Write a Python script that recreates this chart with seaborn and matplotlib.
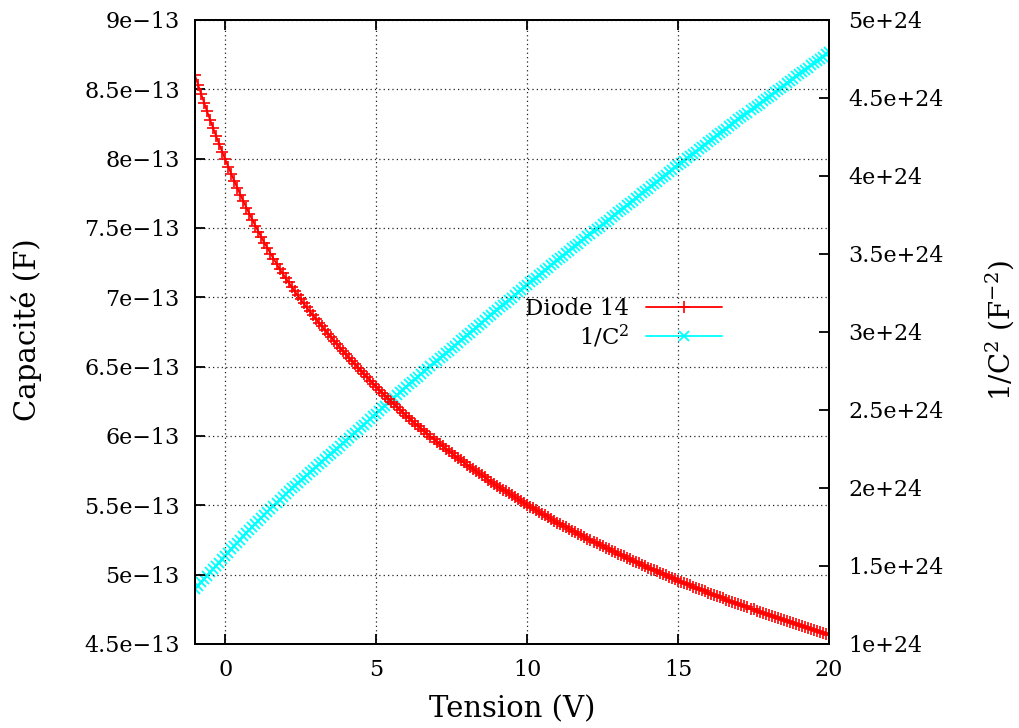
import numpy as np
import pandas as pd
import matplotlib
matplotlib.use("Agg")
import matplotlib.pyplot as plt
import seaborn as sns

# Tension (V): measurement points every 0.1 V from -1 to 20
tension_start = -1.0
tension_step = 0.1

# Capacité, in units of 1e-13 F (one value per 0.1 V)
capacite_e13 = [
    8.600, 8.534, 8.468, 8.404, 8.341, 8.280, 8.220, 8.162, 8.105, 8.049,   # -1.0 .. -0.1
    7.995, 7.942, 7.890, 7.839, 7.789, 7.741, 7.693, 7.647, 7.602, 7.558,   # 0.0 .. 0.9
    7.515, 7.473, 7.432, 7.392, 7.354, 7.316, 7.279, 7.243, 7.207, 7.173,   # 1.0 ..
    7.140, 7.108, 7.076, 7.045, 7.015, 6.985, 6.956, 6.927, 6.899, 6.872,   # 2.0 ..
    6.845, 6.818, 6.791, 6.765, 6.739, 6.713, 6.687, 6.662, 6.637, 6.612,   # 3.0 ..
    6.588, 6.564, 6.540, 6.516, 6.492, 6.469, 6.446, 6.422, 6.400, 6.377,   # 4.0 ..
    6.355, 6.333, 6.311, 6.290, 6.269, 6.248, 6.228, 6.207, 6.187, 6.166,   # 5.0 ..
    6.146, 6.127, 6.108, 6.089, 6.071, 6.052, 6.033, 6.015, 5.996, 5.978,   # 6.0 ..
    5.960, 5.943, 5.926, 5.909, 5.892, 5.876, 5.859, 5.842, 5.826, 5.809,   # 7.0 ..
    5.793, 5.778, 5.763, 5.747, 5.732, 5.717, 5.702, 5.686, 5.671, 5.656,   # 8.0 ..
    5.641, 5.627, 5.613, 5.600, 5.586, 5.572, 5.558, 5.544, 5.531, 5.517,   # 9.0 ..
    5.503, 5.490, 5.478, 5.465, 5.452, 5.440, 5.427, 5.414, 5.401, 5.389,   # 10.0 ..
    5.376, 5.364, 5.353, 5.341, 5.330, 5.318, 5.306, 5.295, 5.283, 5.272,   # 11.0 ..
    5.260, 5.249, 5.238, 5.228, 5.217, 5.206, 5.195, 5.184, 5.174, 5.163,   # 12.0 ..
    5.152, 5.142, 5.132, 5.122, 5.112, 5.102, 5.091, 5.081, 5.071, 5.061,   # 13.0 ..
    5.051, 5.042, 5.032, 5.023, 5.013, 5.004, 4.995, 4.985, 4.976, 4.966,   # 14.0 ..
    4.957, 4.948, 4.940, 4.931, 4.922, 4.914, 4.905, 4.896, 4.887, 4.879,   # 15.0 ..
    4.870, 4.862, 4.853, 4.845, 4.837, 4.829, 4.820, 4.812, 4.804, 4.795,   # 16.0 ..
    4.787, 4.779, 4.772, 4.764, 4.756, 4.749, 4.741, 4.733, 4.725, 4.718,   # 17.0 ..
    4.710, 4.703, 4.695, 4.688, 4.680, 4.673, 4.666, 4.658, 4.651, 4.643,   # 18.0 ..
    4.636, 4.629, 4.622, 4.615, 4.608, 4.602, 4.595, 4.588, 4.581, 4.574,   # 19.0 ..
    4.567,                                                                  # 20.0
]

# Axis ticks and labels
x_ticks = [0, 5, 10, 15, 20]
y_left_ticks = [4.5e-13, 5e-13, 5.5e-13, 6e-13, 6.5e-13, 7e-13, 7.5e-13, 8e-13, 8.5e-13, 9e-13]
y_left_labels = ["4.5e\u221213", "5e\u221213", "5.5e\u221213", "6e\u221213", "6.5e\u221213",
                 "7e\u221213", "7.5e\u221213", "8e\u221213", "8.5e\u221213", "9e\u221213"]
y_right_ticks = [1e24, 1.5e24, 2e24, 2.5e24, 3e24, 3.5e24, 4e24, 4.5e24, 5e24]
y_right_labels = ["1e+24", "1.5e+24", "2e+24", "2.5e+24", "3e+24", "3.5e+24", "4e+24", "4.5e+24", "5e+24"]
series_labels = ["Diode 14", "1/C$^2$"]

# ---------------------------------------------------------------------------
tension = tension_start + tension_step * np.arange(len(capacite_e13))
capacite = np.array(capacite_e13) * 1e-13
df = pd.DataFrame({"V": tension, "C": capacite, "invC2": 1.0 / capacite ** 2})

sns.set_theme(style="white")
plt.rcParams["font.family"] = ["DejaVu Serif"]
plt.rcParams["mathtext.fontset"] = "dejavuserif"

RED = "#ff0000"
CYAN = "#00ffff"

fig = plt.figure(figsize=(10.2, 7.28), dpi=100)
ax = fig.add_axes([195 / 1020, 1 - 644 / 728, (829 - 195) / 1020, (644 - 20) / 728])
ax2 = ax.twinx()

sns.lineplot(data=df, x="V", y="C", ax=ax, color=RED, marker="+",
             markersize=9, markeredgewidth=1.2, markeredgecolor=RED,
             markerfacecolor=RED, linewidth=1.3, legend=False)
sns.lineplot(data=df, x="V", y="invC2", ax=ax2, color=CYAN, marker="x",
             markersize=7.5, markeredgewidth=1.3, markeredgecolor=CYAN,
             markerfacecolor=CYAN, linewidth=1.3, legend=False)

# red series on top of the cyan one
ax.set_zorder(ax2.get_zorder() + 1)
ax.patch.set_visible(False)

ax.set_xlim(-1, 20)
ax.set_ylim(4.5e-13, 9e-13)
ax2.set_ylim(1e24, 5e24)

ax.set_xticks(x_ticks)
ax.set_xticklabels([str(t) for t in x_ticks])
ax.set_yticks(y_left_ticks)
ax.set_yticklabels(y_left_labels)
ax2.set_yticks(y_right_ticks)
ax2.set_yticklabels(y_right_labels)

ax.grid(True, color="#222222", linestyle=(0, (1, 2.5)), linewidth=0.9)
ax2.grid(False)

ax.tick_params(axis="x", direction="in", length=7, width=1.3, top=True, bottom=True,
               labelsize=16, pad=11, colors="black")
ax.tick_params(axis="y", direction="in", length=7, width=1.3, left=True, right=False,
               labelsize=16, pad=11, colors="black")
ax2.tick_params(axis="y", direction="in", length=7, width=1.3, right=True, left=False,
                labelsize=16, pad=14, colors="black")

for a in (ax, ax2):
    for s in a.spines.values():
        s.set_color("black")
        s.set_linewidth(1.4)

ax.set_xlabel("Tension (V)", fontsize=21, color="black")
ax.set_ylabel("Capacité (F)", fontsize=21, color="black")
ax2.set_ylabel("1/C$^2$ (F$^{-2}$)", fontsize=20, color="black")
ax.xaxis.set_label_coords(0.5, -0.082)
ax.yaxis.set_label_coords(-0.241, 0.503)
ax2.yaxis.set_label_coords(1.243, 0.503)

handles = [ax.get_lines()[0], ax2.get_lines()[0]]
leg = ax.legend(handles=handles, labels=series_labels, markerfirst=False, frameon=False,
                fontsize=16.5, numpoints=1, handlelength=3.3, handletextpad=0.75,
                labelspacing=0.1, borderpad=0.0, borderaxespad=0.0,
                loc="center right", bbox_to_anchor=(722 / 1020, 1 - 324 / 728),
                bbox_transform=fig.transFigure)
for t in leg.get_texts():
    t.set_color("black")

fig.savefig("out.png", dpi=100)
